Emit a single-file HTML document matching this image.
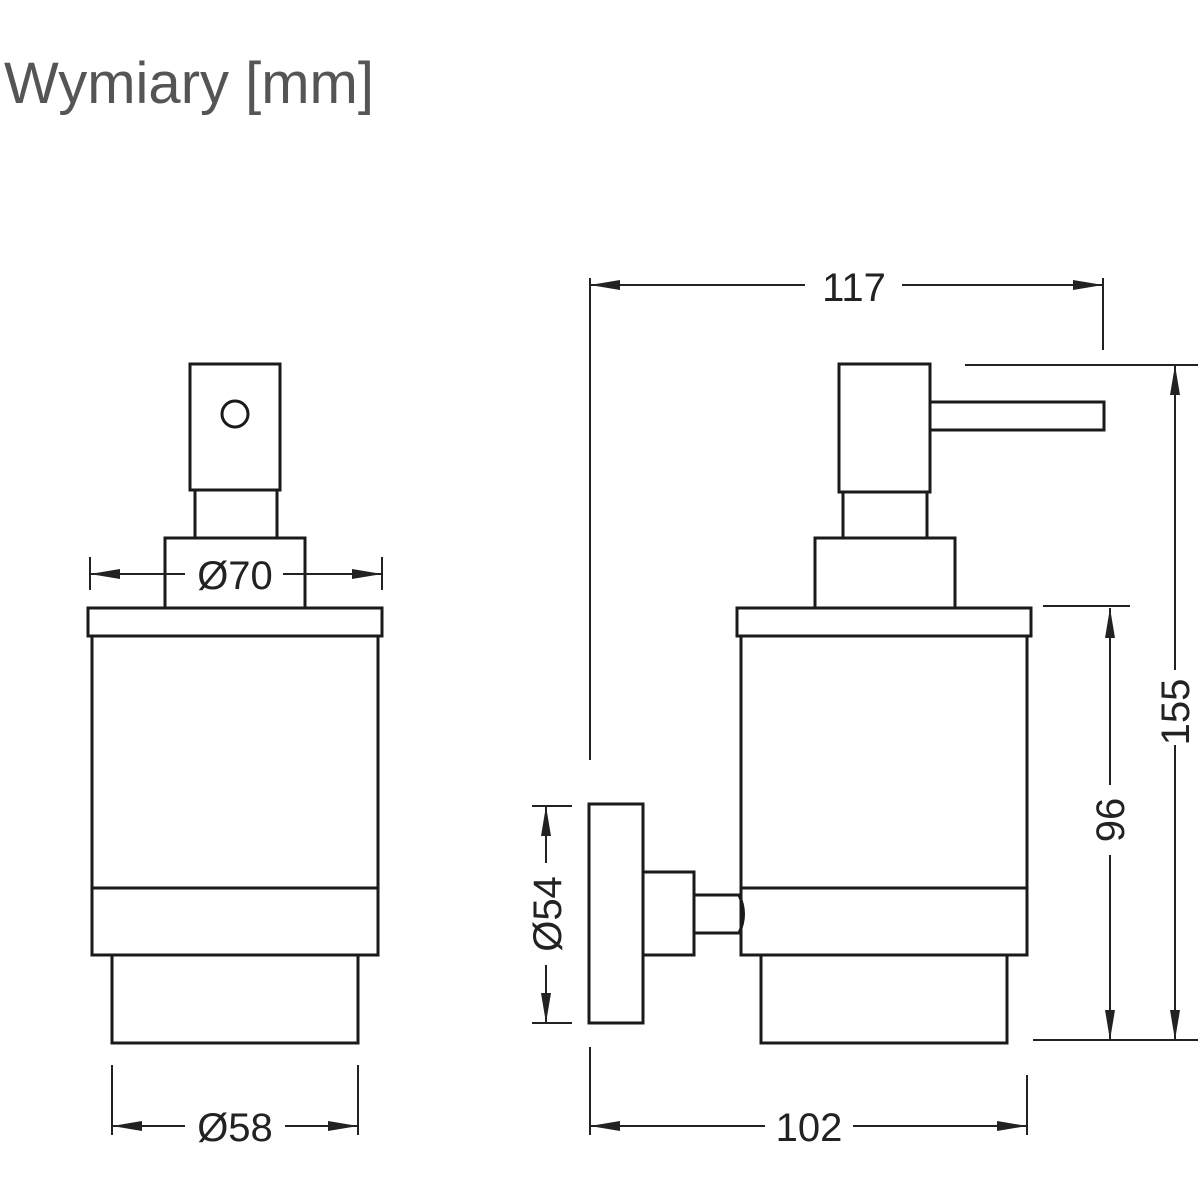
<!DOCTYPE html>
<html><head><style>body{margin:0;background:#fff}svg{display:block}</style></head><body>
<svg width="1200" height="1200" viewBox="0 0 1200 1200" xmlns="http://www.w3.org/2000/svg">
<defs>
<marker id="a" viewBox="0 0 30 10" refX="30" refY="5" markerWidth="30" markerHeight="10" markerUnits="userSpaceOnUse" orient="auto-start-reverse"><path d="M0,0 L30,5 L0,10 z" fill="#222"/></marker>
</defs>
<text x="4" y="103" font-family="Liberation Sans, sans-serif" font-size="58" fill="#555">Wymiary [mm]</text>
<g fill="none" stroke="#1a1a1a" stroke-width="3">
<rect x="190" y="364" width="90" height="126"/>
<circle cx="235" cy="414" r="13"/>
<rect x="195" y="490" width="82" height="48"/>
<rect x="165" y="538" width="140" height="70"/>
<rect x="88" y="608" width="294" height="28"/>
<rect x="92" y="636" width="286" height="252"/>
<rect x="92" y="888" width="286" height="67"/>
<rect x="112" y="955" width="246" height="88"/>
<rect x="839" y="364" width="91" height="128"/>
<rect x="930" y="402" width="174" height="28"/>
<rect x="843" y="492" width="84" height="46"/>
<rect x="815" y="538" width="140" height="70"/>
<rect x="737" y="608" width="294" height="28"/>
<rect x="741" y="636" width="286" height="252"/>
<rect x="741" y="888" width="286" height="67"/>
<rect x="761" y="955" width="246" height="88"/>
<rect x="589" y="804" width="54" height="219"/>
<rect x="643" y="872" width="51" height="83"/>
<path d="M694,895 H739 Q748,914 739,933 H694"/>
</g>
<g stroke="#222" stroke-width="2" fill="none">
<line x1="90" y1="557" x2="90" y2="590"/><line x1="382" y1="557" x2="382" y2="590"/>
<line x1="90" y1="574" x2="185" y2="574" marker-start="url(#a)"/><line x1="283" y1="574" x2="382" y2="574" marker-end="url(#a)"/>
<line x1="112" y1="1065" x2="112" y2="1135"/><line x1="358" y1="1065" x2="358" y2="1135"/>
<line x1="112" y1="1126" x2="185" y2="1126" marker-start="url(#a)"/><line x1="285" y1="1126" x2="358" y2="1126" marker-end="url(#a)"/>
<line x1="590" y1="278" x2="590" y2="760"/><line x1="1103" y1="278" x2="1103" y2="350"/>
<line x1="590" y1="285" x2="805" y2="285" marker-start="url(#a)"/><line x1="902" y1="285" x2="1103" y2="285" marker-end="url(#a)"/>
<line x1="590" y1="1047" x2="590" y2="1135"/><line x1="1027" y1="1075" x2="1027" y2="1135"/>
<line x1="590" y1="1126" x2="765" y2="1126" marker-start="url(#a)"/><line x1="853" y1="1126" x2="1027" y2="1126" marker-end="url(#a)"/>
<line x1="965" y1="365" x2="1198" y2="365"/><line x1="1033" y1="1040" x2="1198" y2="1040"/>
<line x1="1175" y1="365" x2="1175" y2="670" marker-start="url(#a)"/><line x1="1175" y1="745" x2="1175" y2="1040" marker-end="url(#a)"/>
<line x1="1043" y1="606" x2="1130" y2="606"/>
<line x1="1110" y1="608" x2="1110" y2="785" marker-start="url(#a)"/><line x1="1110" y1="855" x2="1110" y2="1040" marker-end="url(#a)"/>
<line x1="532" y1="806" x2="572" y2="806"/><line x1="532" y1="1023" x2="572" y2="1023"/>
<line x1="546" y1="806" x2="546" y2="863" marker-start="url(#a)"/><line x1="546" y1="965" x2="546" y2="1023" marker-end="url(#a)"/>
</g>
<g font-family="Liberation Sans, sans-serif" font-size="40" fill="#222" text-anchor="middle">
<text x="235" y="589">Ø70</text>
<text x="235" y="1141">Ø58</text>
<text x="854" y="301">117</text>
<text x="809" y="1141">102</text>
<text transform="translate(1189,712) rotate(-90)">155</text>
<text transform="translate(1124,820) rotate(-90)">96</text>
<text transform="translate(561,914) rotate(-90)">Ø54</text>
</g>
</svg>
</body></html>
